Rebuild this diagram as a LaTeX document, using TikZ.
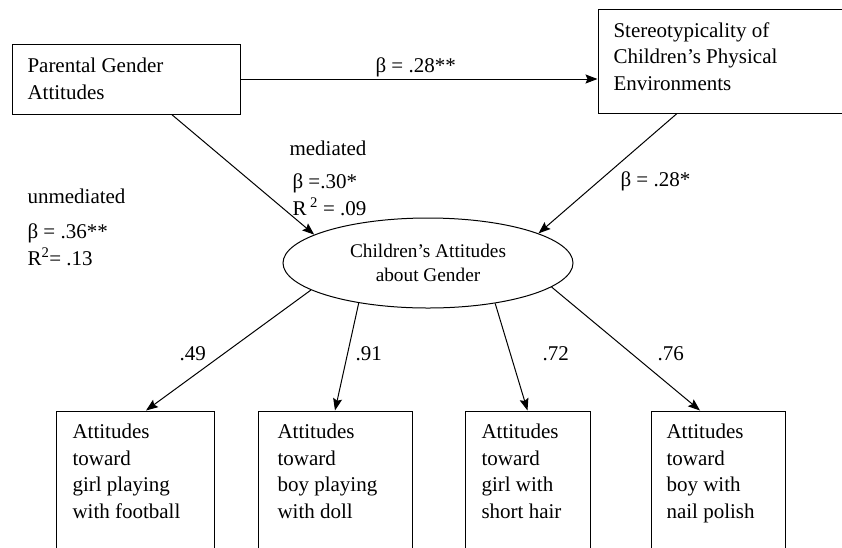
\documentclass[tikz,border=0pt]{standalone}
\usepackage{fontspec}
\setmainfont{Liberation Serif}
\usetikzlibrary{arrows.meta,shapes.geometric}

\tikzset{
  box/.style={draw, rectangle, inner sep=0pt},
  txt/.style={inner sep=0pt, align=left, font=\fontsize{21}{26.6}\selectfont},
  >={Stealth[length=12pt,width=9pt,inset=2pt]},
}

\begin{document}
\begin{tikzpicture}[x=1pt,y=1pt,yscale=-1,xscale=1,line width=1pt]
	\clip (0,0) rectangle (842,547);

	%Shape: Rectangle
	\node [box, minimum width=227.5pt, minimum height=70pt] (pga) at (126.25,79) {};
	%Shape: Rectangle
	\node [box, minimum width=262pt, minimum height=104pt] (env) at (729,61) {};
	%Shape: Ellipse
	\node [draw, ellipse, inner sep=0pt, minimum width=290pt, minimum height=90pt, align=center, font=\fontsize{19.3}{24}\selectfont] (cae) at (428,263) {Children’s Attitudes\\about Gender};
	%Shape: Rectangle
	\node [box, minimum width=158pt, minimum height=160pt] (fball) at (135,491) {};
	%Shape: Rectangle
	\node [box, minimum width=154pt, minimum height=160pt] (doll) at (335,491) {};
	%Shape: Rectangle
	\node [box, minimum width=125pt, minimum height=160pt] (hair) at (527.5,491) {};
	%Shape: Rectangle
	\node [box, minimum width=134pt, minimum height=160pt] (nail) at (718,491) {};

	% Text Node (base = last line)
	\node [txt, anchor=base west] (pgatxt) at (27,99.2) {Parental Gender\\Attitudes};
	% Text Node
	\node [txt, anchor=base west] (envtxt) at (613,90.5) {Stereotypicality of\\Children’s Physical\\Environments};
	% Text Node
	\node [txt, anchor=base west] (fballtxt) at (72,518.5) {Attitudes\\toward\\girl playing\\with football};
	% Text Node
	\node [txt, anchor=base west] (dolltxt) at (277,518.5) {Attitudes\\toward\\boy playing\\with doll};
	% Text Node
	\node [txt, anchor=base west] (hairtxt) at (481,518.5) {Attitudes\\toward\\girl with\\short hair};
	% Text Node
	\node [txt, anchor=base west] (nailtxt) at (666,518.5) {Attitudes\\toward\\boy with\\nail polish};

	%Straight Lines
	\draw [->] (pga.east) -- (pga.east -| env.west);
	%Straight Lines
	\draw [->] (pga.-38.5) -- (cae.166.5);
	%Straight Lines
	\draw [->] ([xshift=-52pt]env.south) -- (cae.15.3);
	%Straight Lines
	\draw [->] (cae.-167.3) -- ([xshift=11pt]fball.north);
	%Straight Lines
	\draw [->] (cae.-150.3) -- (doll.north);
	%Straight Lines
	\draw [->] (cae.-31.4) -- (hair.north);
	%Straight Lines
	\draw [->] (cae.-11.6) -- ([xshift=-18pt]nail.north);

	% Text Node
	\node [txt, anchor=base west] (bpe) at (375,72) {β = .28**};
	% Text Node
	\node [txt, anchor=base west] (medlbl) at (289,155) {mediated};
	% Text Node
	\node [txt, anchor=base west] (medval) at (292,215) {β =.30*\\R\,\textsuperscript{2} = .09};
	% Text Node
	\node [txt, anchor=base west] (unmlbl) at (27,203) {unmediated};
	% Text Node
	\node [txt, anchor=base west] (unmval) at (27,265) {β = .36**\\R\textsuperscript{2}= .13};
	% Text Node
	\node [txt, anchor=base west] (bec) at (620,186) {β = .28*};
	% Text Node
	\node [txt, anchor=base west] (lfball) at (179,360) {.49};
	% Text Node
	\node [txt, anchor=base west] (ldoll) at (355,360) {.91};
	% Text Node
	\node [txt, anchor=base west] (lhair) at (542,360) {.72};
	% Text Node
	\node [txt, anchor=base west] (lnail) at (657,360) {.76};
\end{tikzpicture}
\end{document}
